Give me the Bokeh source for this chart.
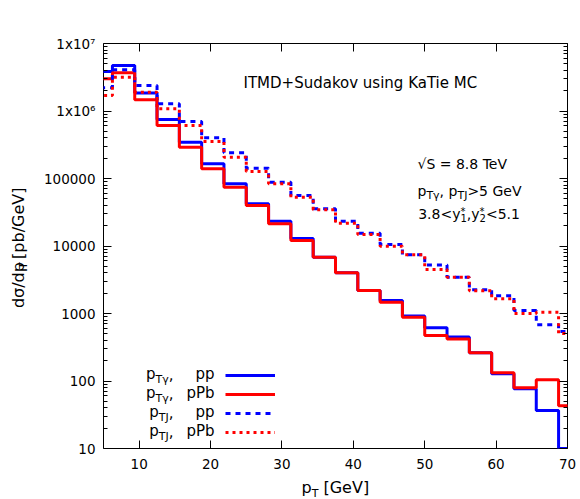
import math
from bokeh.plotting import figure
from bokeh.layouts import column, row
from bokeh.models import (Label, LogAxis, LinearAxis, FixedTicker, Legend,
                          LegendItem, Range1d)
from bokeh.embed import file_html
from bokeh.resources import INLINE

# ---------------- data ----------------
bin_edges = [3.125, 6.25, 9.375, 12.5, 15.625, 18.75, 21.875, 25.0, 28.125,
             31.25, 34.375, 37.5, 40.625, 43.75, 46.875, 50.0, 53.125, 56.25,
             59.375, 62.5, 65.625, 68.75, 71.875]

pTgamma_pp = [3.85e6, 4.72e6, 1.84e6, 7.5e5, 3.45e5, 1.65e5, 8.35e4, 4.22e4,
              2.33e4, 1.29e4, 6.8e3, 4.0e3, 2.19e3, 1.56e3, 918, 614, 449,
              262, 128, 76.6, 36.6, 10]
pTgamma_pPb = [3.0e6, 3.68e6, 1.47e6, 6.1e5, 2.91e5, 1.39e5, 7.43e4, 3.98e4,
               2.13e4, 1.21e4, 6.8e3, 4.0e3, 2.19e3, 1.47e3, 881, 472, 419,
               262, 132, 79.3, 104, 42.9]
pTJ_pp = [2.21e6, 4.08e6, 2.39e6, 1.28e6, 6.99e5, 4.01e5, 2.40e5, 1.42e5,
          8.81e4, 5.6e4, 3.56e4, 2.33e4, 1.55e4, 1.05e4, 7.41e3, 5.23e3,
          3.45e3, 2.25e3, 1.83e3, 1.11e3, 683, 541]
pTJ_pPb = [1.70e6, 3.17e6, 1.90e6, 1.08e6, 6.1e5, 3.53e5, 2.07e5, 1.27e5,
           8.35e4, 5.28e4, 3.44e4, 2.18e4, 1.48e4, 9.93e3, 7.41e3, 4.49e3,
           3.45e3, 2.17e3, 1.65e3, 1.0e3, 1.04e3, 505]

x_ticks = [10, 20, 30, 40, 50, 60, 70]
y_ticks = [10, 100, 1000, 10000, 100000, 1000000, 10000000]
y_tick_labels = ["10", "100", "1000", "10000", "100000", "1x10\u2076", "1x10\u2077"]

# ---------------- layout (global canvas pixels) ----------------
W_, H_ = 580, 499
YLAB_W = 40          # left strip holding the y title
MAIN_H = 476         # main figure height; strip below holds the x title
FL, FR, FT, FB = 103, 567, 43, 448   # frame edges in canvas pixels
X0, X1 = 5, 70
Y0, Y1 = 10, 1e7
FONT = "DejaVu Sans"
BASE_K = 0.42        # baseline correction (fraction of font size)

p = figure(width=W_ - YLAB_W, height=MAIN_H,
           x_range=Range1d(X0, X1), y_range=Range1d(Y0, Y1),
           y_axis_type="log", output_backend="svg", toolbar_location=None,
           min_border_left=FL - YLAB_W, min_border_right=W_ - FR,
           min_border_top=FT, min_border_bottom=MAIN_H - FB,
           background_fill_color="white", border_fill_color="white")
p.grid.visible = False
p.outline_line_color = "black"
p.outline_line_width = 1

minor_y = [m * 10 ** k for k in range(1, 7) for m in range(2, 10)]
xt = FixedTicker(ticks=x_ticks, minor_ticks=[])
yt = FixedTicker(ticks=y_ticks, minor_ticks=minor_y)

def style_axis(ax):
    ax.axis_line_color = None
    ax.major_tick_in = 8
    ax.major_tick_out = 0
    ax.minor_tick_in = 4
    ax.minor_tick_out = 0
    ax.major_tick_line_color = "black"
    ax.minor_tick_line_color = "black"
    ax.major_label_text_font = FONT
    ax.major_label_text_color = "black"
    ax.major_label_text_font_size = "13.5px"

p.xaxis.ticker = xt
p.yaxis.ticker = yt
p.yaxis.major_label_overrides = {int(t): s for t, s in zip(y_ticks, y_tick_labels)}
style_axis(p.xaxis[0])
style_axis(p.yaxis[0])
p.xaxis.major_label_standoff = 10
p.yaxis.major_label_standoff = 8

top_ax = LinearAxis(ticker=xt)
style_axis(top_ax)
top_ax.major_label_overrides = {int(t): "" for t in x_ticks}
top_ax.major_label_standoff = 0
p.add_layout(top_ax, "above")
right_ax = LogAxis(ticker=yt)
style_axis(right_ax)
right_ax.major_label_overrides = {int(t): "" for t in y_ticks}
right_ax.major_label_standoff = 0
p.add_layout(right_ax, "right")

BLUE, RED = "#0000ff", "#ff0000"

def stepline(vals, color, dash):
    return p.step(x=bin_edges, y=list(vals) + [vals[-1]], mode="after",
                  line_color=color, line_width=3, line_dash=dash)

r1 = stepline(pTgamma_pp, BLUE, "solid")
r2 = stepline(pTgamma_pPb, RED, "solid")
r3 = stepline(pTJ_pp, BLUE, "5 5")
r4 = stepline(pTJ_pPb, RED, "3 4")

legend = Legend(items=[LegendItem(label=" ", renderers=[r]) for r in (r1, r2, r3, r4)],
                location=(225 - FL, 8), glyph_width=50, glyph_height=16,
                label_height=16, label_width=4, label_standoff=0, spacing=3,
                padding=0, margin=0, border_line_color=None,
                background_fill_alpha=0, label_text_font_size="8px")
p.add_layout(legend)

# ---------------- text helpers ----------------
CW = {' ': .318, ',': .318, '.': .318, '/': .337, '<': .838, '=': .838,
      '>': .838, '+': .838, '*': .5, '[': .390, ']': .390, 'C': .698,
      'D': .770, 'G': .776, 'I': .295, 'J': .295, 'K': .656, 'M': .863,
      'P': .603, 'S': .635, 'T': .611, 'V': .684, 'a': .613, 'b': .635,
      'c': .550, 'd': .635, 'e': .615, 'g': .635, 'i': .278, 'k': .579,
      'n': .634, 'o': .612, 'p': .635, 's': .521, 'u': .634, 'v': .592,
      'y': .592, '\u03b3': .592, '\u03c3': .634, '\u221a': .636}

def tw(s, size):
    return sum(CW.get(c, .636) for c in s) * size

def main_xy(px, py):
    x = X0 + (px - FL) * (X1 - X0) / (FR - FL)
    ly0, ly1 = math.log10(Y0), math.log10(Y1)
    y = 10 ** (ly1 - (py - FT) * (ly1 - ly0) / (FB - FT))
    return x, y

def make_put(fig, conv):
    def put(px, py, text, size, angle=0.0):
        lead = len(text) - len(text.lstrip(" "))
        shift = tw(" " * lead, size)
        if angle == 0.0:
            px, py = px + shift, py - BASE_K * size
        else:
            px, py = px - BASE_K * size, py - shift
        x, y = conv(px, py)
        fig.add_layout(Label(x=x, y=y, text=text.lstrip(" "), text_font=FONT,
                             text_font_size=f"{size}px", text_color="black",
                             text_align="left", text_baseline="alphabetic",
                             angle=angle))
    return put

def runs(put, px, py, items, rotated=False):
    adv = 0.0
    for item in items:
        text, size, off = item[0], item[1], item[2]
        advance = item[3] if len(item) > 3 else True
        if rotated:
            put(px + off, py - adv, text, size, math.pi / 2)
        else:
            put(px + adv, py + off, text, size)
        if advance:
            adv += tw(text, size)

def width_of(items):
    return sum(tw(i[0], i[1]) for i in items if (len(i) < 4 or i[3]))

put_main = make_put(p, main_xy)

# in-plot annotations
put_main(243, 89, "ITMD+Sudakov using KaTie MC", 15)
put_main(417, 169, "\u221aS = 8.8 TeV", 14)
runs(put_main, 417, 196, [("p", 14, 0), ("T\u03b3", 11, 4), (", p", 14, 0),
                          ("TJ", 11, 4), (">5 GeV", 14, 0)])
runs(put_main, 417.7, 219, [("3.8<y", 14, 0), ("*", 10, -4, False), ("1", 10, 3),
                            (",y", 14, 0), ("*", 10, -4, False), ("2", 10, 3),
                            ("<5.1", 14, 0)])

# legend texts
row_centres = [375.1, 394.1, 413.1, 432.1]
left_parts = [[("p", 15, 0), ("T\u03b3", 11, 4), (",", 15, 0)],
              [("p", 15, 0), ("T\u03b3", 11, 4), (",", 15, 0)],
              [("p", 15, 0), ("TJ", 11, 4), (",", 15, 0)],
              [("p", 15, 0), ("TJ", 11, 4), (",", 15, 0)]]
right_parts = ["pp", "pPb", "pp", "pPb"]
for c, lp, rp in zip(row_centres, left_parts, right_parts):
    base = c + 5
    runs(put_main, 173 - width_of(lp), base, lp)
    put_main(214 - tw(rp, 15), base, rp, 15)

# ---------------- title strips ----------------
def strip(w, h):
    f = figure(width=w, height=h, x_range=Range1d(0, w), y_range=Range1d(h, 0),
               output_backend="svg", toolbar_location=None,
               x_axis_location=None, y_axis_location=None,
               min_border=0, min_border_left=0, min_border_right=0,
               min_border_top=0, min_border_bottom=0,
               background_fill_color="white", border_fill_color="white")
    f.outline_line_color = None
    f.grid.visible = False
    return f

ylab = strip(YLAB_W, MAIN_H)
put_y = make_put(ylab, lambda px, py: (px, py))
runs(put_y, 25, 311, [("d\u03c3/dp", 16, 0), ("T", 11, 3), (" [pb/GeV]", 16, 0)],
     rotated=True)

xlab = strip(W_, H_ - MAIN_H)
put_x = make_put(xlab, lambda px, py: (px, py - MAIN_H))
runs(put_x, 301, 494, [("p", 16, 0), ("T", 11, 4), (" [GeV]", 16, 0)])

page = column(row(ylab, p, spacing=0), xlab, spacing=0)
open("out.html", "w").write(file_html(page, INLINE))
